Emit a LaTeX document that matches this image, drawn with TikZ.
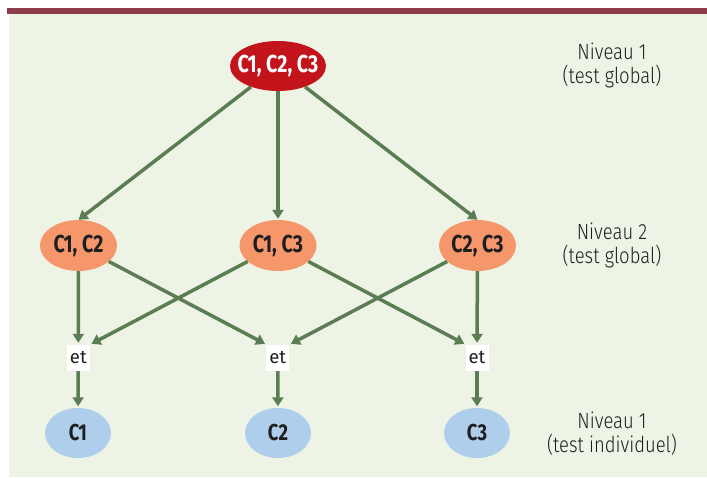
\documentclass[tikz,border=0pt]{standalone}
\usepackage{fontspec}
\setmainfont{Fira Sans}
\newfontfamily\lblfont[FakeStretch=0.84,UprightFont=* Light]{Fira Sans}
\newfontfamily\nodefont[FakeStretch=0.8,UprightFont=* Bold]{Fira Sans}
\usetikzlibrary{arrows.meta,shapes.geometric}
\definecolor{barc}{HTML}{8E3C4B}
\definecolor{bgc}{HTML}{EEF4E5}
\definecolor{redc}{HTML}{C3141B}
\definecolor{orangec}{HTML}{F5966B}
\definecolor{bluec}{HTML}{AFCEEC}
\definecolor{greenc}{HTML}{5C7C53}
\definecolor{textc}{HTML}{1E1E1E}
\tikzset{
  topnode/.style={ellipse,fill=redc,minimum width=96pt,minimum height=50pt,inner xsep=-12pt,inner ysep=0pt,text=white,font=\nodefont\fontsize{24.5}{24.5}\selectfont},
  midnode/.style={ellipse,fill=orangec,minimum width=77pt,minimum height=51pt,inner xsep=-6pt,inner ysep=0pt,text=textc,font=\nodefont\fontsize{24.5}{24.5}\selectfont},
  botnode/.style={ellipse,fill=bluec,minimum width=66pt,minimum height=50pt,inner sep=0pt,text=textc,font=\nodefont\fontsize{23}{23}\selectfont},
  etbox/.style={rectangle,fill=white,minimum width=23pt,minimum height=26pt,inner sep=0pt,text=textc,font=\fontsize{18.5}{18.5}\selectfont},
  levellabel/.style={align=center,text=textc,font=\lblfont\fontsize{22}{24}\selectfont},
  arr/.style={draw=greenc,line width=3.5pt,-{Triangle[length=9pt,width=11pt]}}
}
\begin{document}
\begin{tikzpicture}[x=1pt,y=-1pt]
\useasboundingbox (0,0) rectangle (707,477);
\fill[bgc] (9,13) rectangle (707,477);
\fill[barc] (7,8) rectangle (707,14);

\node[topnode] (top) at (278,66) {C1, C2, C3};
\node[midnode] (l1) at (78.5,245.5) {C1, C2};
\node[midnode] (l2) at (278,245.5) {C1, C3};
\node[midnode] (l3) at (477.5,245.5) {C2, C3};
\node[etbox] (et1) at (78.3,358) {et};
\node[etbox] (et2) at (277.7,358) {et};
\node[etbox] (et3) at (477,358) {et};
\node[botnode] (b1) at (78,433) {C1};
\node[botnode] (b2) at (278,433) {C2};
\node[botnode] (b3) at (477,433) {C3};

\node[levellabel] (lab1) at (612,65) {Niveau 1\\(test global)};
\node[levellabel] (lab2) at (612,245) {Niveau 2\\(test global)};
\node[levellabel] (lab3) at (612,434) {Niveau 1\\(test individuel)};

\draw[arr] (top) -- (l1.north);
\draw[arr,shorten >=1pt] (top) -- (l2);
\draw[arr] (top) -- (l3.north);

\draw[arr,shorten >=2pt] (l1) -- (et1);
\draw[arr] (l1) -- ([shift={(-1,-1)}]et2.north west);
\draw[arr] (l2) -- ([shift={(1.5,-1)}]et1.north east);
\draw[arr] (l2) -- ([shift={(-1,-1)}]et3.north west);
\draw[arr] (l3) -- ([shift={(1.5,-1)}]et2.north east);
\draw[arr,shorten >=2pt] (l3) -- (et3);

\draw[arr,shorten >=1.5pt] (et1) -- (b1);
\draw[arr,shorten >=1.5pt] (et2) -- (b2);
\draw[arr,shorten >=1.5pt] (et3) -- (b3);
\end{tikzpicture}
\end{document}
